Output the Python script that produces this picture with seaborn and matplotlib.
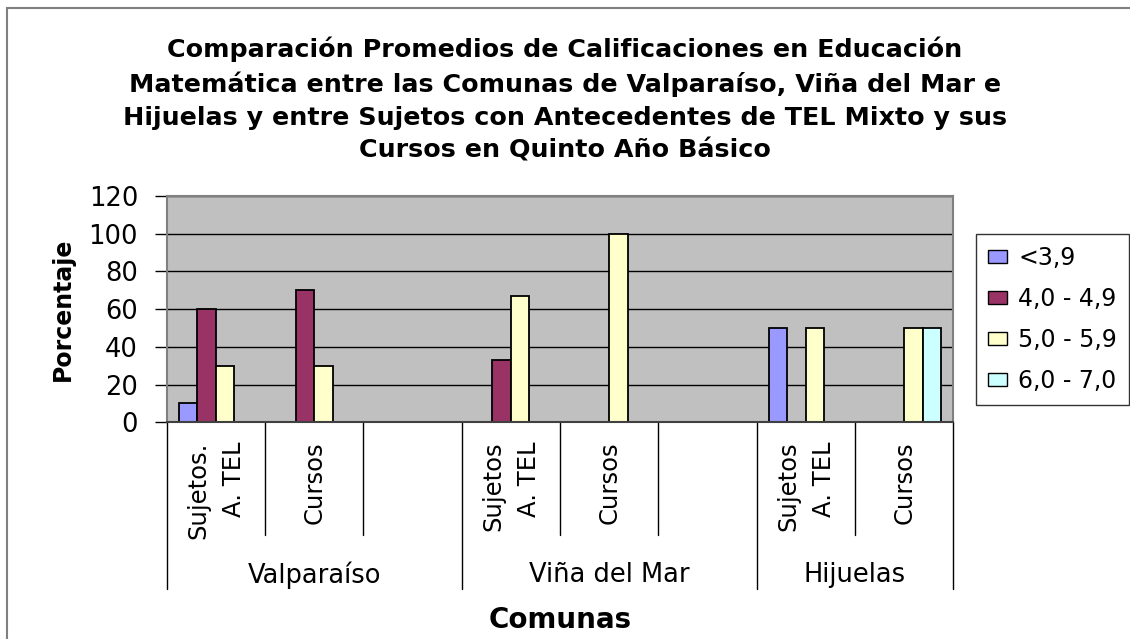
import matplotlib
matplotlib.use("Agg")
import matplotlib.pyplot as plt
import seaborn as sns
import pandas as pd
import numpy as np
from matplotlib.patches import Patch, Rectangle

# ---------------- data ----------------
comunas = ["Valparaíso", "Viña del Mar", "Hijuelas"]
slot_ids = ["v_suj", "v_cur", "v_gap", "m_suj", "m_cur", "m_gap", "h_suj", "h_cur"]
slot_labels = ["Sujetos.\nA. TEL", "Cursos", "", "Sujetos\nA. TEL", "Cursos", "",
               "Sujetos\nA. TEL", "Cursos"]
series = ["<3,9", "4,0 - 4,9", "5,0 - 5,9", "6,0 - 7,0"]
nan = np.nan
vals_lt39 = [10, 0, nan, 0, 0, nan, 50, 0]
vals_40_49 = [60, 70, nan, 33, 0, nan, 0, 0]
vals_50_59 = [30, 30, nan, 67, 100, nan, 50, 50]
vals_60_70 = [0, 0, nan, 0, 0, nan, 0, 50]
colors = ["#9999FF", "#993366", "#FFFFCC", "#CCFFFF"]

title = ("Comparación Promedios de Calificaciones en Educación\n"
         "Matemática entre las Comunas de Valparaíso, Viña del Mar e\n"
         "Hijuelas y entre Sujetos con Antecedentes de TEL Mixto y sus\n"
         "Cursos en Quinto Año Básico")

rows = []
for name, vals in zip(series, [vals_lt39, vals_40_49, vals_50_59, vals_60_70]):
    for sid, v in zip(slot_ids, vals):
        rows.append({"slot": sid, "serie": name, "valor": v})
df = pd.DataFrame(rows).dropna()

# ---------------- figure ----------------
sns.set_style("white")
plt.rcParams["font.family"] = ["DejaVu Sans"]
for k in ["text.color", "axes.labelcolor", "xtick.color", "ytick.color"]:
    plt.rcParams[k] = "black"

W, H = 1130, 639
fig = plt.figure(figsize=(W / 100, H / 100), dpi=100)
L, R, T, B = 166.7, 953.4, 196.0, 422.3
ax = fig.add_axes([L / W, 1 - B / H, (R - L) / W, (B - T) / H])

sns.barplot(data=df, x="slot", y="valor", hue="serie", order=slot_ids,
            hue_order=series, palette=colors, width=0.75, edgecolor="black",
            linewidth=1.3, errorbar=None, legend=False, ax=ax, saturation=1)

for p in ax.patches:
    if p.get_height() == 0:
        p.set_visible(False)

ax.set_facecolor("#C0C0C0")
ax.set_xlim(-0.5, len(slot_ids) - 0.5)
ax.set_ylim(0, 120)
ax.set_yticks(range(0, 121, 20))
ax.yaxis.grid(True, color="black", linewidth=1.0)
ax.set_axisbelow(True)
for s in ["left", "top", "right"]:
    ax.spines[s].set_color("#808080")
    ax.spines[s].set_linewidth(1.5)
ax.spines["bottom"].set_color("#404040")
ax.spines["bottom"].set_linewidth(1.5)

ax.tick_params(axis="y", direction="out", length=8.6, width=1, color="black",
               labelsize=18.5, pad=12, left=True)
ax.set_xticks(range(len(slot_ids)))
ax.set_xticklabels(slot_labels, rotation=90, fontsize=17.5, linespacing=1.6)
for lab in ax.get_xticklabels():
    lab.set_multialignment("right")
ax.tick_params(axis="x", length=0, pad=14)

ax.set_xlabel("Comunas", fontsize=20, fontweight="bold")
ax.xaxis.set_label_coords(0.5, (B - 620) / (B - T), transform=ax.transAxes)
ax.xaxis.label.set_va("center")
ax.set_ylabel("Porcentaje", fontsize=17, fontweight="bold")
ax.yaxis.set_label_coords((63 - L) / (R - L), 0.5)
ax.yaxis.label.set_va("center")

# category separators
xt = ax.get_xaxis_transform()
group_bounds = [-0.5, 2.5, 5.5, 7.5]
inner_bounds = [0.5, 1.5, 3.5, 4.5, 6.5]
y_long = (B - 589) / (B - T)
y_short = (B - 535) / (B - T)
for xb in group_bounds:
    ax.plot([xb, xb], [0, y_long], transform=xt, color="black", lw=1, clip_on=False)
for xb in inner_bounds:
    ax.plot([xb, xb], [0, y_short], transform=xt, color="black", lw=1, clip_on=False)
y_grp = (B - 575) / (B - T)
for i, name in enumerate(comunas):
    cx = (group_bounds[i] + group_bounds[i + 1]) / 2
    ax.text(cx, y_grp, name, transform=xt, ha="center", va="center", fontsize=18.5)

fig.text(0.5, 1 - 99.5 / H, title, ha="center", va="center", fontsize=18.3,
         fontweight="bold", linespacing=1.46)

handles = [Patch(facecolor=c, edgecolor="black", linewidth=1) for c in colors]
leg = fig.legend(handles, series, loc="upper left",
                 bbox_to_anchor=(976 / W, 1 - 234 / H), fontsize=17,
                 frameon=True, fancybox=False, edgecolor="black",
                 handlelength=0.8, handleheight=0.52, handletextpad=0.5,
                 labelspacing=0.72, borderpad=0.5, borderaxespad=0)
leg.get_frame().set_linewidth(1)

fig.patches.append(Rectangle((7 / W, -0.1), 1.2, 1 - 8 / H + 0.1,
                             transform=fig.transFigure, fill=False,
                             edgecolor="#808080", linewidth=1.5))

fig.savefig("out.png", dpi=100)
